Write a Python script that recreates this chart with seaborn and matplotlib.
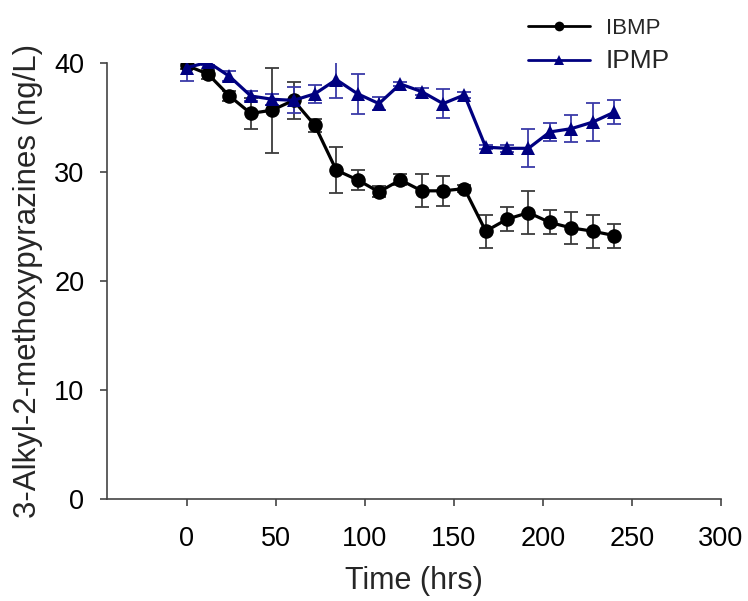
import numpy as np
import pandas as pd
import matplotlib
matplotlib.use("Agg")
import matplotlib.pyplot as plt
import seaborn as sns
from matplotlib.lines import Line2D

# Sampling times (hours)
time_hrs = [0, 12, 24, 36, 48, 60, 72, 84, 96, 108, 120, 132, 144, 156,
            168, 180, 192, 204, 216, 228, 240]

# Mean concentrations (ng/L)
ibmp_mean = [39.8, 39.0, 37.0, 35.4, 35.7, 36.6, 34.3, 30.2, 29.3, 28.2, 29.3,
             28.3, 28.3, 28.5, 24.6, 25.7, 26.3, 25.4, 24.9, 24.6, 24.2]
ipmp_mean = [39.6, 40.1, 38.8, 37.0, 36.7, 36.6, 37.2, 38.5, 37.2, 36.3, 38.1,
             37.4, 36.3, 37.1, 32.3, 32.2, 32.2, 33.7, 34.0, 34.6, 35.5]

# Standard deviations (ng/L)
ibmp_sd = [0.3, 0.4, 0.5, 1.4, 3.9, 1.7, 0.6, 2.1, 0.9, 0.5, 0.5,
           1.5, 1.4, 0.3, 1.5, 1.1, 2.0, 1.1, 1.5, 1.5, 1.1]
ipmp_sd = [1.2, 0.3, 0.45, 0.5, 0.5, 1.2, 0.85, 1.7, 1.85, 0.6, 0.2,
           0.3, 1.35, 0.3, 0.2, 0.3, 1.75, 0.8, 1.25, 1.75, 1.1]

compounds = ["IBMP", "IPMP"]
line_colors = {"IBMP": "#000000", "IPMP": "#000080"}
bar_colors = {"IBMP": "#3c3c3c", "IPMP": "#3a3aa8"}
marker_map = {"IBMP": "o", "IPMP": "^"}

df = pd.DataFrame({
    "Time": time_hrs * 2,
    "Conc": ibmp_mean + ipmp_mean,
    "SD": ibmp_sd + ipmp_sd,
    "Compound": ["IBMP"] * len(time_hrs) + ["IPMP"] * len(time_hrs),
})

sns.set_style("white")
plt.rcParams["font.family"] = ["Liberation Sans", "DejaVu Sans"]

fig = plt.figure(figsize=(7.48, 6.01), dpi=100)
ax = fig.add_axes([0.1426, 0.1692, 0.8209, 0.7255])

# Error bars first so the lines and markers sit on top
for comp in compounds:
    sub = df[df["Compound"] == comp]
    ax.errorbar(sub["Time"], sub["Conc"], yerr=sub["SD"], fmt="none",
                ecolor=bar_colors[comp], elinewidth=1.3, capsize=5,
                capthick=1.3, zorder=2)

sns.lineplot(data=df, x="Time", y="Conc", hue="Compound", style="Compound",
             palette=line_colors, markers=marker_map, dashes=False,
             markersize=10.5, markeredgewidth=0, linewidth=2.3,
             errorbar=None, legend=False, ax=ax, zorder=3)

ax.set_xlim(-45, 300)
ax.set_ylim(0, 40)
ax.set_xticks([0, 50, 100, 150, 200, 250, 300])
ax.set_yticks([0, 10, 20, 30, 40])

for side in ("top", "right"):
    ax.spines[side].set_visible(False)
for side in ("left", "bottom"):
    ax.spines[side].set_color("#444444")
    ax.spines[side].set_linewidth(1.2)

ax.tick_params(axis="both", direction="out", length=5, width=1.2,
               color="#444444", labelsize=19.5, labelcolor="black")
ax.tick_params(axis="x", pad=14, bottom=True)
ax.tick_params(axis="y", pad=11, left=True)

ax.set_xlabel("Time (hrs)", fontsize=22, labelpad=10)
ax.set_ylabel("3-Alkyl-2-methoxypyrazines (ng/L)", fontsize=22.5, labelpad=8)

# Legend with small markers on long line samples
handles = [Line2D([], [], color=line_colors[c], marker=marker_map[c],
                  markersize=7, linewidth=2, markeredgewidth=0)
           for c in compounds]
leg = fig.legend(handles, compounds, loc="upper left",
                 bbox_to_anchor=(0.679, 1.003), frameon=False,
                 fontsize=16, handlelength=2.8, handletextpad=0.7,
                 labelspacing=0.45)
leg.get_texts()[1].set_fontsize(19)

fig.savefig("out.png", dpi=100)
